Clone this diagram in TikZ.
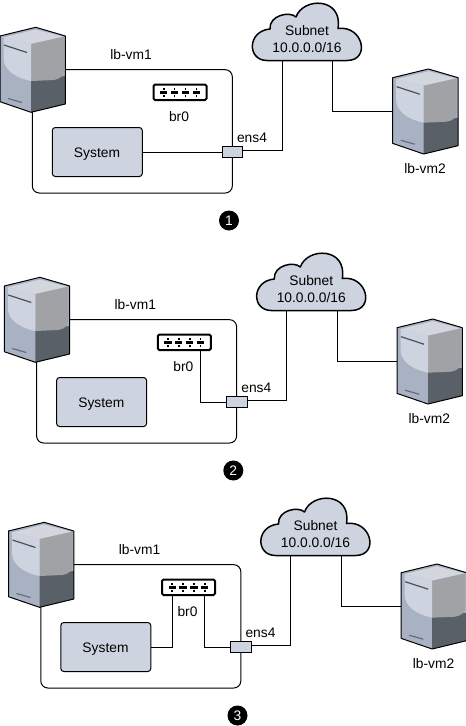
\documentclass[tikz,border=0pt]{standalone}
\usepackage{fontspec}
\setmainfont{Liberation Sans}
\definecolor{paleblue}{HTML}{CDD3DF}
\definecolor{srvleft}{HTML}{A9B2C3}
\definecolor{srvdark}{HTML}{5A6068}
\definecolor{srvgrey}{HTML}{A0A2A5}
\definecolor{srvtop}{HTML}{D3D6DE}
\definecolor{srvslit}{HTML}{4C5159}
\tikzset{
  wire/.style={draw=black,line width=1pt},
  label/.style={inner sep=0pt,font=\fontsize{13.8}{16}\selectfont},
  paleshape/.style={draw=black,line width=1pt,fill=paleblue},
  sysbox/.style={paleshape,rounded corners=3pt,minimum width=90pt,minimum height=49pt,inner sep=0pt},
  portbox/.style={paleshape,minimum width=20.4pt,minimum height=10.6pt,inner sep=0pt},
  hostbox/.style={draw=black,line width=1pt,rounded corners=7pt},
  swbox/.style={draw=black,line width=2pt,fill=white,rounded corners=1.5pt,minimum width=53pt,minimum height=15.5pt,inner sep=0pt},
  stepnum/.style={circle,fill=black,text=white,minimum size=20pt,inner sep=0pt,font=\fontsize{13.8}{16}\selectfont},
  anchorbox/.style={inner sep=0pt,minimum width=65.3pt,minimum height=85pt},
  cloudbox/.style={inner sep=0pt,minimum width=110pt,minimum height=58pt},
}
% server drawn from its top-left local corner
\newcommand{\serverat}[3]{%
  \begin{scope}[shift={(#1,#2)}]
    \node[anchorbox] (#3) at (32.65,69.8) {};
    \fill[srvleft] (0,36) -- (35.7,27.3) -- (65.3,36) -- (65.3,104) -- (31,112.3) -- (0,101.7) -- cycle;
    \fill[srvtop] (3,37.5) -- (35.7,29.5) -- (63,36.5) -- (31,44) -- cycle;
    \fill[srvdark] (31,80) -- (65.3,76) -- (65.3,104) -- (31,112.3) -- cycle;
    \fill[srvgrey] (31,44) -- (64,37) -- (64,70) .. controls (64,76) and (60,79) .. (54,80) -- (31,81) -- cycle;
    \fill[paleblue] (3.5,37.5) -- (31,44) -- (31,81) .. controls (16,78) and (3.5,70) .. (3.5,58) -- cycle;
    \draw[srvslit,line width=1.2pt] (4,45) -- (27,52.5);
    \draw[srvslit!70!srvleft,line width=1.2pt] (8,98.5) -- (22,102.5);
    \draw[black,line width=1pt,line join=round] (0,36) -- (35.7,27.3) -- (65.3,36) -- (65.3,104) -- (31,112.3) -- (0,101.7) -- cycle;
  \end{scope}}
\newcommand{\panelat}[4]{%
  \begin{scope}[shift={(#1,#2)}]
    \draw[hostbox] (32.3,69.7) rectangle (232.3,193);
    \serverat{0}{0}{srva#3}
    \node[label] (vma#3) at (131,54.5) {lb-vm1};
    \node[sysbox] (sys#3) at (97.3,152) {};
    \node[label] (syst#3) at (97,154) {System};
    \node[swbox] (sw#3) at (180,92.3) {};
    \foreach \px in {163.7,174.5,185.5,196.3}{
      \fill[black] (\px-3.6,91.3) rectangle (\px+3.6,93.7);
      \fill[black] (\px-0.8,88) rectangle (\px+0.8,90);
      \fill[black] (\px-0.8,95) rectangle (\px+0.8,97);
    }
    \node[label] (brl#3) at (179,117) {br0};
    \coordinate (swl#3) at (164.3,100);
    \coordinate (swr#3) at (195.8,100);
    \node[portbox] (port#3) at (232.5,152) {};
    \coordinate (pout#3) at (242.7,150.3);
    \node[label] (ens#3) at (252,137.5) {ens4};
    % cloud
    \node[cloudbox] (cloud#3) at (307,31.5) {};
    \draw[paleshape,line width=1.5pt,line join=round]
      (267,60.5) .. controls (247,60.5) and (247,31) .. (270,29)
      .. controls (269,15) and (290,11) .. (296,17)
      .. controls (303,-3) and (343,-3) .. (338,28.5)
      .. controls (363,25) and (371,60.5) .. (347,60.5) -- cycle;
    \node[label] (sub#3) at (307,30.5) {Subnet};
    \node[label] (net#3) at (307,47.5) {10.0.0.0/16};
    \coordinate (ca#3) at (282.3,60.5);
    \coordinate (cb#3) at (332.7,60.5);
    \serverat{392.7}{41.7}{srvb#3}
    \node[label] (vmb#3) at (425,169) {lb-vm2};
    \node[stepnum] (num#3) at (229,220.5) {#3};
    \draw[wire] (pout#3) -| (ca#3);
    \draw[wire] (cb#3) |- (srvb#3.west);
    #4
  \end{scope}}
\begin{document}
\begin{tikzpicture}[x=1pt,y=-1pt]
\useasboundingbox (0,0) rectangle (466,726);
\panelat{0}{0}{1}{\draw[wire] (sys1.east) -- (port1.west);}
\panelat{4.3}{250}{2}{\draw[wire] (swr2) |- (port2.west);}
\panelat{8.5}{495}{3}{\draw[wire] (sys3.east) -| (swl3); \draw[wire] (swr3) |- (port3.west);}
\end{tikzpicture}
\end{document}
